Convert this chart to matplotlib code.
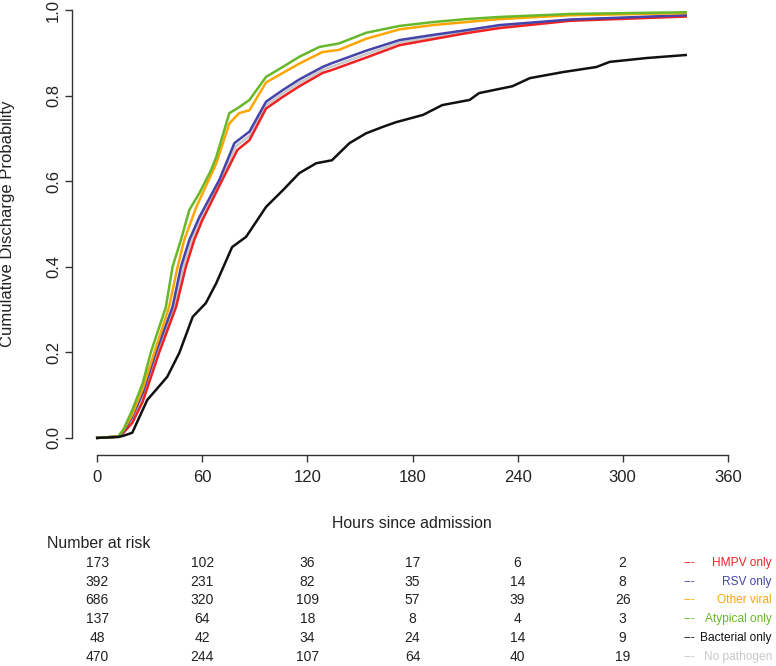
import matplotlib
matplotlib.use("Agg")
import matplotlib.pyplot as plt
import matplotlib.transforms as mtransforms

plt.rcParams['font.family'] = ['Liberation Sans', 'DejaVu Sans']

# Cumulative discharge curves (hours, probability)
hmpv_h = [0, 12, 15, 20, 26, 35.4, 45, 50.6, 55.4, 60, 71.4, 80, 86.9, 96.4, 105.9, 115.4,
          128.6, 134, 153.5, 172.6, 191.6, 210.6, 229.7, 270, 336]
hmpv_p = [0, 0.003, 0.012, 0.035, 0.085, 0.20, 0.306, 0.40, 0.463, 0.509, 0.603, 0.673, 0.696,
          0.770, 0.797, 0.822, 0.853, 0.860, 0.889, 0.918, 0.932, 0.946, 0.958, 0.975, 0.985]

rsv_h = [0, 12, 15, 20, 26, 33.5, 43, 47.8, 52.6, 58.3, 69.7, 78.3, 86.9, 96.4, 105.9, 115.4,
         128.6, 134, 153.5, 172.6, 191.6, 210.6, 229.7, 270, 336]
rsv_p = [0, 0.003, 0.015, 0.05, 0.105, 0.20, 0.306, 0.40, 0.463, 0.516, 0.603, 0.689, 0.716,
         0.786, 0.813, 0.838, 0.867, 0.876, 0.905, 0.930, 0.942, 0.953, 0.965, 0.978, 0.988]

other_h = [0, 12, 15, 20, 26, 32.6, 41, 45.9, 49.7, 56.6, 68, 75.4, 81, 86.9, 96.4, 105.9, 115.4,
           128.6, 138, 153.5, 172.6, 191.6, 210.6, 229.7, 270, 336]
other_p = [0, 0.003, 0.018, 0.055, 0.115, 0.20, 0.306, 0.40, 0.463, 0.540, 0.642, 0.735, 0.759,
           0.766, 0.831, 0.853, 0.875, 0.902, 0.907, 0.933, 0.955, 0.965, 0.972, 0.979, 0.988, 0.993]

atyp_h = [0, 12, 15, 20, 26, 30.6, 39.2, 43, 47.8, 52.6, 58.3, 65, 68, 75.4, 81, 86.9, 96.4,
          105.9, 115.4, 126.9, 138, 153.5, 172.6, 191.6, 210.6, 229.7, 270, 336]
atyp_p = [0, 0.003, 0.02, 0.065, 0.128, 0.20, 0.306, 0.40, 0.463, 0.533, 0.572, 0.626, 0.657,
          0.759, 0.773, 0.79, 0.844, 0.867, 0.891, 0.914, 0.922, 0.947, 0.963, 0.972, 0.979,
          0.984, 0.991, 0.995]

bact_h = [0, 12, 15, 20, 28.6, 33.5, 40, 46.9, 54.5, 62, 68, 77, 85, 96.4, 106, 115.4, 125,
          134, 144, 153.5, 163, 170.6, 186, 197, 212.6, 218, 237, 247, 265.7, 285, 292.6,
          313.7, 336]
bact_p = [0, 0.002, 0.005, 0.012, 0.089, 0.112, 0.143, 0.199, 0.283, 0.315, 0.362, 0.446, 0.47,
          0.54, 0.579, 0.619, 0.642, 0.649, 0.689, 0.712, 0.727, 0.738, 0.755, 0.778, 0.79,
          0.806, 0.822, 0.841, 0.855, 0.867, 0.879, 0.888, 0.895]

none_h = [0, 12, 15, 20, 26, 34.5, 44, 49, 54, 59, 70.5, 79, 86.9, 96.4, 105.9, 115.4, 128.6,
          134, 153.5, 172.6, 191.6, 210.6, 229.7, 270, 336]
none_p = [0, 0.003, 0.014, 0.045, 0.097, 0.20, 0.306, 0.40, 0.463, 0.512, 0.603, 0.681, 0.706,
          0.778, 0.805, 0.830, 0.860, 0.868, 0.897, 0.924, 0.937, 0.95, 0.962, 0.977, 0.987]

# Number at risk table
risk_times = [0, 60, 120, 180, 240, 300]
risk_hmpv = [173, 102, 36, 17, 6, 2]
risk_rsv = [392, 231, 82, 35, 14, 8]
risk_other = [686, 320, 109, 57, 39, 26]
risk_atyp = [137, 64, 18, 8, 4, 3]
risk_bact = [48, 42, 34, 24, 14, 9]
risk_none = [470, 244, 107, 64, 40, 19]

labels = ['HMPV only', 'RSV only', 'Other viral', 'Atypical only', 'Bacterial only', 'No pathogen']
colors = ['#ee2222', '#4444aa', '#ffa500', '#66b82a', '#111111', '#c8c8c8']

fig = plt.figure(figsize=(7.76, 6.66), dpi=100)
ax = fig.add_axes([72 / 776, 1 - 455 / 666, 681 / 776, 462 / 666])

# gray drawn first so the coloured lines sit on top
ax.plot(none_h, none_p, color=colors[5], lw=1.8)
ax.plot(hmpv_h, hmpv_p, color=colors[0], lw=1.8)
ax.plot(rsv_h, rsv_p, color=colors[1], lw=1.8)
ax.plot(other_h, other_p, color=colors[2], lw=1.8)
ax.plot(atyp_h, atyp_p, color=colors[3], lw=1.8)
ax.plot(bact_h, bact_p, color=colors[4], lw=1.8)

ax.set_xlim(-14.4, 374.4)
ax.set_ylim(-0.04, 1.04)
for s in ['top', 'right']:
    ax.spines[s].set_visible(False)
ax.spines['bottom'].set_bounds(0, 360)
ax.spines['left'].set_bounds(0, 1)
for s in ['bottom', 'left']:
    ax.spines[s].set_color('#333333')
    ax.spines[s].set_linewidth(1)

ax.set_xticks([0, 60, 120, 180, 240, 300, 360])
ax.set_yticks([0, 0.2, 0.4, 0.6, 0.8, 1.0])
ax.set_yticklabels(['0.0', '0.2', '0.4', '0.6', '0.8', '1.0'], rotation=90, va='center')
ax.tick_params(axis='both', length=5, width=1, color='#333333', labelsize=12,
               labelcolor='#222222')
ax.tick_params(axis='x', pad=6)
ax.tick_params(axis='y', pad=3)

fig.text(8 / 776, 1 - 224 / 666, 'Cumulative Discharge Probability', rotation=90,
         ha='center', va='center', fontsize=12, color='#222222')
fig.text(412 / 776, 1 - 523 / 666, 'Hours since admission', ha='center', va='center',
         fontsize=11.4, color='#222222')
fig.text(47 / 776, 1 - 543 / 666, 'Number at risk', ha='left', va='center',
         fontsize=11.4, color='#222222')

trans = mtransforms.blended_transform_factory(ax.transData, fig.transFigure)
rows = [risk_hmpv, risk_rsv, risk_other, risk_atyp, risk_bact, risk_none]
row_y = [563, 582, 600, 619, 638, 657]
for vals, py, lab, col in zip(rows, row_y, labels, colors):
    yf = 1 - py / 666
    for t, v in zip(risk_times, vals):
        ax.text(t, yf, str(v), transform=trans, ha='center', va='center',
                fontsize=10, color='#222222')
    fig.text(684 / 776, yf, '---', ha='left', va='center', fontsize=8.6, color=col)
    fig.text(772 / 776, yf, lab, ha='right', va='center', fontsize=8.6, color=col)

fig.savefig('out.png', dpi=100)
